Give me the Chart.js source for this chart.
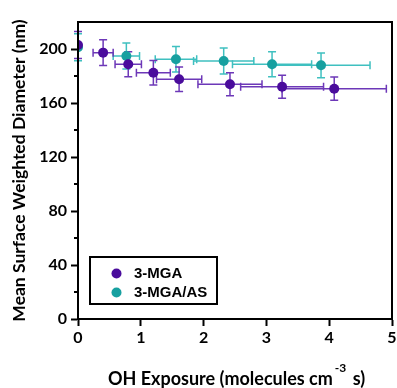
<!DOCTYPE html>
<html>
<head>
<meta charset="utf-8">
<script src="https://cdn.jsdelivr.net/npm/chart.js@4"></script>
<style>
  html, body { margin: 0; padding: 0; background: #fff; }
  #wrap { width: 397px; height: 388px; position: relative; }
</style>
</head>
<body>
<div id="wrap"><canvas id="chart"></canvas></div>
<script>
// 3-MGA series
const mgaX = [0, 0.40, 0.80, 1.20, 1.61, 2.42, 3.25, 4.08];
const mgaY = [203, 197.3, 188.7, 182.4, 177.6, 173.9, 172.1, 170.6];
const mgaXErr = [0, 0.16, 0.21, 0.27, 0.36, 0.51, 0.66, 0.83];
const mgaYErr = [10, 9.6, 9.2, 9, 9, 8.6, 8.5, 8.6];

// 3-MGA/AS series
const asX = [0, 0.77, 1.56, 2.32, 3.09, 3.87];
const asY = [201.3, 194.8, 192.4, 191.1, 188.7, 187.9];
const asXErr = [0, 0.21, 0.33, 0.48, 0.63, 0.78];
const asYErr = [10, 9.6, 9.5, 9.6, 9.2, 9.2];

const yTicks = [0, 40, 80, 120, 160, 200];
const yMinorTicks = [20, 60, 100, 140, 180];
const xTicks = [0, 1, 2, 3, 4, 5];

const seriesNames = ['3-MGA', '3-MGA/AS'];
const pointColors = ['#4a0c9c', '#17a0a0'];
const barColors = ['#6d38b8', '#3fc0c0'];

const toPoints = (xs, ys, xe, ye) => xs.map((x, i) => ({ x: x, y: ys[i], xe: xe[i], ye: ye[i] }));

// error bars drawn under the markers
const errorBars = {
    id: 'errorBars',
    beforeDatasetsDraw(chart) {
        const ctx = chart.ctx;
        const xs = chart.scales.x, ys = chart.scales.y;
        const cap = 4;
        for (let d = chart.data.datasets.length - 1; d >= 0; d--) {
            const ds = chart.data.datasets[d];
            ctx.save();
            ctx.strokeStyle = barColors[d];
            ctx.lineWidth = 1.5;
            ds.data.forEach(p => {
                const px = xs.getPixelForValue(p.x), py = ys.getPixelForValue(p.y);
                const y1 = ys.getPixelForValue(p.y - p.ye), y2 = ys.getPixelForValue(p.y + p.ye);
                ctx.beginPath();
                ctx.moveTo(px, y1); ctx.lineTo(px, y2);
                ctx.moveTo(px - cap, y1); ctx.lineTo(px + cap, y1);
                ctx.moveTo(px - cap, y2); ctx.lineTo(px + cap, y2);
                if (p.xe > 0) {
                    const x1 = xs.getPixelForValue(p.x - p.xe), x2 = xs.getPixelForValue(p.x + p.xe);
                    ctx.moveTo(x1, py); ctx.lineTo(x2, py);
                    ctx.moveTo(x1, py - cap); ctx.lineTo(x1, py + cap);
                    ctx.moveTo(x2, py - cap); ctx.lineTo(x2, py + cap);
                }
                ctx.stroke();
            });
            ctx.restore();
        }
    }
};

// frame, minor ticks, legend box and x title with superscript
const extras = {
    id: 'extras',
    afterDraw(chart) {
        const ctx = chart.ctx;
        const a = chart.chartArea;
        const ys = chart.scales.y;
        ctx.save();
        ctx.strokeStyle = '#000';
        ctx.lineWidth = 2;
        ctx.strokeRect(a.left, a.top, a.right - a.left, a.bottom - a.top);

        yMinorTicks.forEach(v => {
            const py = ys.getPixelForValue(v);
            ctx.beginPath();
            ctx.moveTo(a.left - 4, py);
            ctx.lineTo(a.left, py);
            ctx.stroke();
        });

        // legend
        const lx = 90, ly = 257;
        ctx.strokeRect(lx, ly, 127, 47);
        ctx.font = 'bold 15px "Liberation Sans", Arial, sans-serif';
        ctx.textBaseline = 'middle';
        ctx.textAlign = 'left';
        seriesNames.forEach((name, i) => {
            const cy = 274 + i * 19;
            ctx.fillStyle = pointColors[i];
            ctx.beginPath();
            ctx.arc(116.5, cy - 0.5, 5, 0, Math.PI * 2);
            ctx.fill();
            ctx.fillStyle = '#000';
            ctx.fillText(name, 134, cy);
        });

        // x axis title
        const main = 'OH Exposure (molecules cm';
        const sup = '-3';
        const tail = ' s)';
        const big = 'bold 18px Lato, sans-serif';
        const small = 'bold 12px Lato, sans-serif';
        ctx.font = big;
        const w1 = ctx.measureText(main).width;
        const w3 = ctx.measureText(tail).width;
        ctx.font = small;
        const w2 = ctx.measureText(sup).width + 4;
        let x = 236.5 - (w1 + w2 + w3) / 2;
        const baseY = 384.5;
        ctx.textBaseline = 'alphabetic';
        ctx.fillStyle = '#000';
        ctx.font = big;
        ctx.fillText(main, x, baseY);
        x += w1;
        ctx.font = small;
        ctx.fillText(sup, x + 2, baseY - 13);
        x += w2;
        ctx.font = big;
        ctx.fillText(tail, x, baseY);
        ctx.restore();
    }
};

const tickFont = { family: 'Lato, sans-serif', size: 16, weight: 'bold' };

new Chart(document.getElementById('chart'), {
    type: 'scatter',
    data: {
        datasets: [
            {
                label: seriesNames[0],
                data: toPoints(mgaX, mgaY, mgaXErr, mgaYErr),
                backgroundColor: pointColors[0],
                borderColor: pointColors[0],
                pointRadius: 5,
                pointBorderWidth: 0
            },
            {
                label: seriesNames[1],
                data: toPoints(asX, asY, asXErr, asYErr),
                backgroundColor: pointColors[1],
                borderColor: pointColors[1],
                pointRadius: 5,
                pointBorderWidth: 0
            }
        ]
    },
    options: {
        responsive: true,
        maintainAspectRatio: false,
        animation: false,
        layout: { padding: { top: 22, right: 4, left: 0, bottom: 0 } },
        plugins: {
            legend: { display: false },
            tooltip: { enabled: false }
        },
        scales: {
            x: {
                type: 'linear',
                min: 0,
                max: 5,
                afterBuildTicks: s => { s.ticks = xTicks.map(v => ({ value: v })); },
                afterFit: s => { s.height = 69; s.paddingLeft = 0; s.paddingRight = 0; },
                grid: { drawOnChartArea: false, drawTicks: true, tickLength: 7, tickWidth: 2, tickColor: '#000' },
                border: { color: '#000', width: 2 },
                ticks: { color: '#000', font: tickFont, padding: 2, maxRotation: 0 }
            },
            y: {
                min: 0,
                max: 220,
                afterBuildTicks: s => { s.ticks = yTicks.map(v => ({ value: v })); },
                afterFit: s => { s.width = 78; },
                grid: { drawOnChartArea: false, drawTicks: true, tickLength: 7, tickWidth: 2, tickColor: '#000' },
                border: { color: '#000', width: 2 },
                ticks: { color: '#000', font: tickFont, padding: 4 },
                title: {
                    display: true,
                    text: 'Mean Surface Weighted Diameter (nm)',
                    color: '#000',
                    font: { family: 'Lato, sans-serif', size: 17.5, weight: 'bold' },
                    padding: { top: 9, bottom: 0 }
                }
            }
        }
    },
    plugins: [errorBars, extras]
});
</script>
</body>
</html>
